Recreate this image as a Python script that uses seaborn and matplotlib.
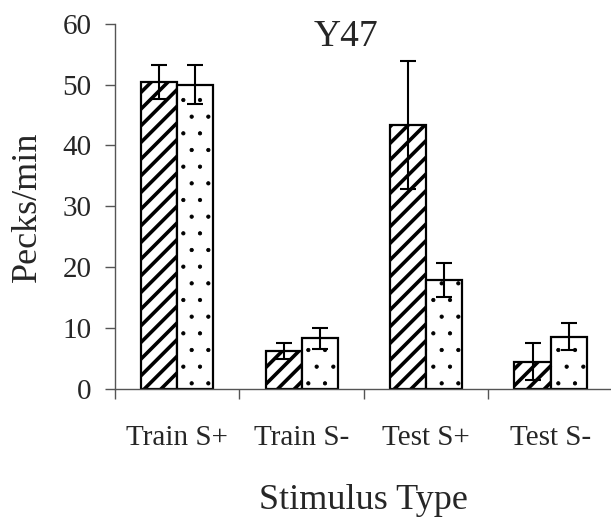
import numpy as np
import matplotlib
matplotlib.use("Agg")
import matplotlib.pyplot as plt
import pandas as pd
import seaborn as sns

categories = ["Train S+", "Train S-", "Test S+", "Test S-"]
series = ["A", "B"]
means_a = [50.4, 6.3, 43.3, 4.5]
means_b = [50.0, 8.3, 17.9, 8.6]
errs_a = [2.85, 1.3, 10.5, 3.0]
errs_b = [3.2, 1.8, 2.85, 2.25]

sns.set_style("white")
plt.rcParams["font.family"] = ["Liberation Serif", "DejaVu Serif"]
plt.rcParams["hatch.linewidth"] = 2.6

df = pd.DataFrame({
    "cat": categories * 2,
    "series": [series[0]] * 4 + [series[1]] * 4,
    "val": means_a + means_b,
    "err": errs_a + errs_b,
})

fig = plt.figure(figsize=(6.11, 5.24), dpi=100)
ax = fig.add_axes([0.188, 0.2576, 0.815, 0.6972])

sns.barplot(data=df, x="cat", y="val", hue="series", order=categories,
            hue_order=series, palette=["white", "white"], width=0.58,
            errorbar=None, edgecolor="black", linewidth=1.6, legend=False,
            ax=ax)

hatches = {"A": "//", "B": "."}
hatch_lw = {"A": 2.6, "B": 0.6}
for container, s in zip(ax.containers, series):
    sub = df[df["series"] == s].set_index("cat").loc[categories]
    for bar, m, e in zip(container, sub["val"], sub["err"]):
        bar.set_hatch(hatches[s])
        if hasattr(bar, "set_hatch_linewidth"):
            bar.set_hatch_linewidth(hatch_lw[s])
        cx = bar.get_x() + bar.get_width() / 2
        ax.errorbar(cx, m, yerr=e, color="black", capsize=6, elinewidth=1.5,
                    capthick=1.5)

ax.set_xlim(-0.5, 3.5)
ax.set_ylim(0, 60)
ax.set_yticks(range(0, 61, 10))
ax.set_xticks([-0.5, 0.5, 1.5, 2.5, 3.5], minor=True)
ax.tick_params(axis="x", which="major", length=0, pad=26, labelsize=21)
ax.tick_params(axis="x", which="minor", length=7, width=1, color="#555555",
               direction="out", bottom=True)
ax.tick_params(axis="y", length=7, width=1, color="#555555", direction="out",
               left=True, pad=10, labelsize=21)
for side in ["top", "right"]:
    ax.spines[side].set_visible(False)
for side in ["left", "bottom"]:
    ax.spines[side].set_color("#555555")
    ax.spines[side].set_linewidth(1)

ax.set_xlabel("Stimulus Type", fontsize=26, labelpad=24)
ax.set_ylabel("Pecks/min", fontsize=26)
ax.yaxis.set_label_coords(-0.143, 0.5)
ax.text(0.464, 0.965, "Y47", transform=ax.transAxes, ha="center", va="center",
        fontsize=27)

fig.savefig("out.png", dpi=100)
